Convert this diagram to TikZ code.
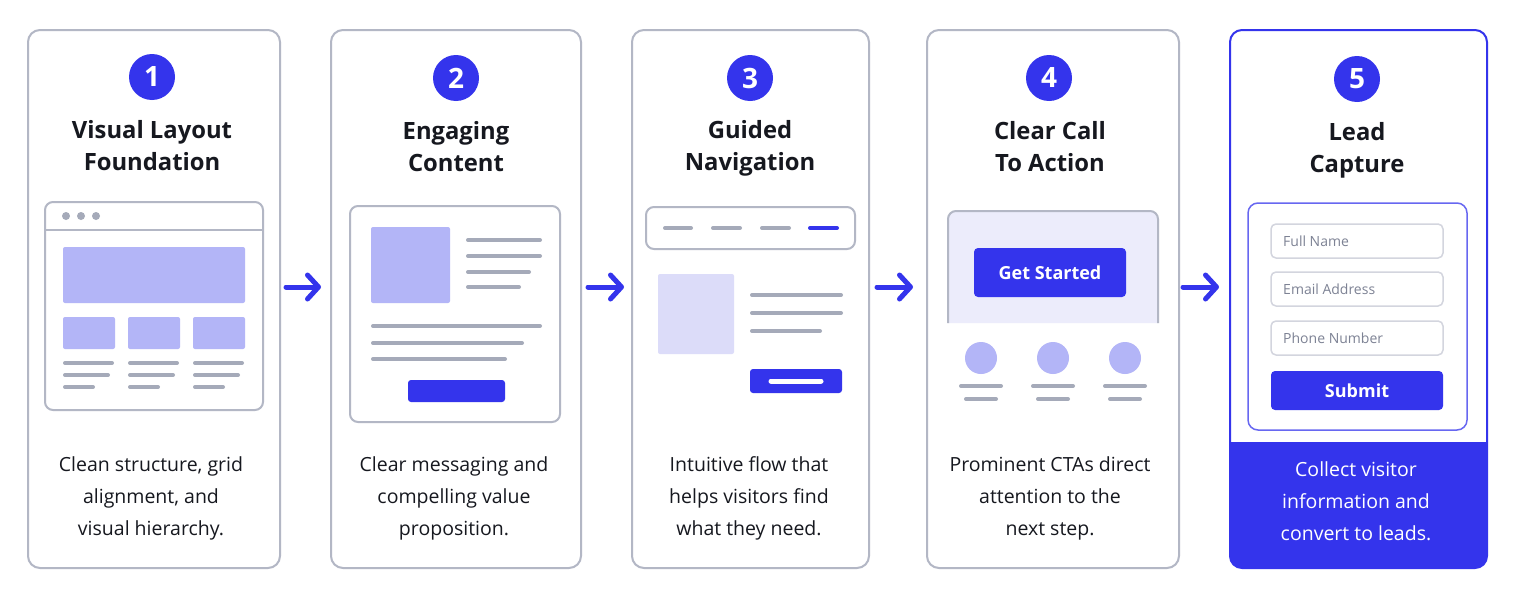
\documentclass[tikz,border=0pt]{standalone}
\usepackage{fontspec}
\setmainfont{Open Sans}
\usetikzlibrary{arrows.meta,calc}
\definecolor{brand}{HTML}{3434EC}
\definecolor{lav}{HTML}{B3B5F7}
\definecolor{lavlight}{HTML}{DCDCF9}
\definecolor{lavbg}{HTML}{ECECFB}
\definecolor{barc}{HTML}{A5AAB9}
\definecolor{edge}{HTML}{B3B7C5}
\definecolor{fieldedge}{HTML}{D3D5DE}
\definecolor{ink}{HTML}{16181F}
\definecolor{hint}{HTML}{7D8294}
\begin{document}
\begin{tikzpicture}[x=1pt,y=-1pt,
  panel/.style={draw=edge, line width=2pt, rounded corners=12pt, fill=white, minimum height=538pt},
  num/.style={circle, fill=brand, minimum size=46pt, inner sep=0pt, text=white, font=\fontsize{28}{28}\selectfont\bfseries},
  title/.style={align=center, text=ink, font=\fontsize{23.8}{32}\selectfont\bfseries},
  desc/.style={align=center, text=ink, font=\fontsize{19.5}{32}\selectfont},
  flow/.style={draw=brand, line width=5pt, line cap=round, -{Straight Barb[length=11pt, width=24pt, round]}},
  bars/.style={draw=barc, line width=4pt, line cap=round},
  frame/.style={draw=edge, line width=2pt, rounded corners=8pt},
  block/.style={fill=lav, rounded corners=2pt},
  field/.style={draw=fieldedge, line width=1.5pt, rounded corners=5pt, fill=white},
  hinttext/.style={anchor=west, text=hint, inner sep=0pt, font=\fontsize{14}{14}\selectfont},
  btntext/.style={text=white, font=\fontsize{18}{18}\selectfont\bfseries}
]
\useasboundingbox[fill=white] (0,0) rectangle (1515,597);

% panels
\node[panel, minimum width=252pt] (p1) at (154,299) {};
\node[panel, minimum width=250pt] (p2) at (456,299) {};
\node[panel, minimum width=237pt] (p3) at (750.5,299) {};
\node[panel, minimum width=252pt] (p4) at (1053,299) {};
\node[panel, minimum width=257pt, draw=brand] (p5) at (1358.5,299) {};
\begin{scope}
  \clip[rounded corners=12pt] (1230,30) rectangle (1487,568);
  \fill[brand] (1228,442) rectangle (1489,570);
\end{scope}

% numbers
\node[num] (n1) at (152,77) {1};
\node[num] (n2) at (456,78) {2};
\node[num] (n3) at (750,78) {3};
\node[num] (n4) at (1049,78) {4};
\node[num] (n5) at (1357,79) {5};

% titles
\node[title] (t1) at (152,146) {Visual Layout\\Foundation};
\node[title] (t2) at (456,147) {Engaging\\Content};
\node[title] (t3) at (750,148.5) {Guided\\Navigation};
\node[title] (t4) at (1050,147) {Clear Call\\To Action};
\node[title] (t5) at (1357,150) {Lead\\Capture};

% descriptions
\node[desc] (d1) at (151,498) {Clean structure, grid\\alignment, and\\visual hierarchy.};
\node[desc] (d2) at (454,498) {Clear messaging and\\compelling value\\proposition.};
\node[desc] (d3) at (749,498) {Intuitive flow that\\helps visitors find\\what they need.};
\node[desc] (d4) at (1050,498) {Prominent CTAs direct\\attention to the\\next step.};
\node[desc, text=white] (d5) at (1356,501) {Collect visitor\\information and\\convert to leads.};

% arrows
\draw[flow] ($(p1.east)+(5,-12)$) -- ($(p2.west)+(-9,-12)$);
\draw[flow] ($(p2.east)+(6,-12)$) -- ($(p3.west)+(-7,-12)$);
\draw[flow] ($(p3.east)+(7,-12)$) -- ($(p4.west)+(-13,-12)$);
\draw[flow] ($(p4.east)+(3,-12)$) -- ($(p5.west)+(-10,-12)$);

% panel 1 illustration
\draw[frame] (45,202) rectangle (263,410);
\draw[draw=edge, line width=2pt] (45,230) -- (263,230);
\foreach \x in {66,81,96} \fill[barc] (\x,216) circle (4);
\fill[block] (63,247) rectangle (245,303);
\foreach \x in {63,128,193} {
  \fill[block] (\x,317) rectangle (\x+52,349);
  \draw[bars] (\x+2,363) -- (\x+49,363);
  \draw[bars] (\x+2,375) -- (\x+45,375);
  \draw[bars] (\x+2,387) -- (\x+30,387);
}

% panel 2 illustration
\draw[frame] (350,206) rectangle (560,422);
\fill[block] (371,227) rectangle (450,303);
\draw[bars] (468,240) -- (540,240);
\draw[bars] (468,256) -- (540,256);
\draw[bars] (468,272) -- (529,272);
\draw[bars] (468,287) -- (519,287);
\draw[bars] (373,326) -- (540,326);
\draw[bars] (373,343) -- (522,343);
\draw[bars] (373,359) -- (505,359);
\fill[brand, rounded corners=3pt] (408,380) rectangle (505,402);

% panel 3 illustration
\draw[frame] (646,207) rectangle (855,249);
\draw[bars] (665,228) -- (691,228);
\draw[bars] (713,228) -- (740,228);
\draw[bars] (762,228) -- (789,228);
\draw[bars, draw=brand] (810,228) -- (837,228);
\fill[lavlight, rounded corners=2pt] (658,274) rectangle (734,354);
\draw[bars] (752,295) -- (841,295);
\draw[bars] (752,313) -- (841,313);
\draw[bars] (752,331) -- (820,331);
\fill[brand, rounded corners=3pt] (750,369) rectangle (842,393);
\draw[draw=white, line width=5pt, line cap=round] (771,381) -- (821,381);

% panel 4 illustration
\path[fill=lavbg, draw=edge, line width=2pt, rounded corners=8pt] (948,323) -- (948,211) -- (1158,211) -- (1158,323);
\fill[brand, rounded corners=4pt] (974,248) rectangle (1126,297);
\node[btntext] (b4) at (1050,272.5) {Get Started};
\foreach \x in {981,1053,1125} {
  \fill[lav] (\x,358) circle (16);
  \draw[bars] (\x-20,386) -- (\x+20,386);
  \draw[bars] (\x-15,399) -- (\x+15,399);
}

% panel 5 illustration
\draw[draw=brand!75!white, line width=1.5pt, rounded corners=10pt] (1248,203) rectangle (1467,430);
\draw[field] (1271,224) rectangle (1443,258);
\draw[field] (1271,272) rectangle (1443,306);
\draw[field] (1271,321) rectangle (1443,355);
\node[hinttext] (f1) at (1283,241) {Full Name};
\node[hinttext] (f2) at (1283,289) {Email Address};
\node[hinttext] (f3) at (1283,338) {Phone Number};
\fill[brand, rounded corners=4pt] (1271,371) rectangle (1443,410);
\node[btntext] (b5) at (1357,390.5) {Submit};
\end{tikzpicture}
\end{document}
